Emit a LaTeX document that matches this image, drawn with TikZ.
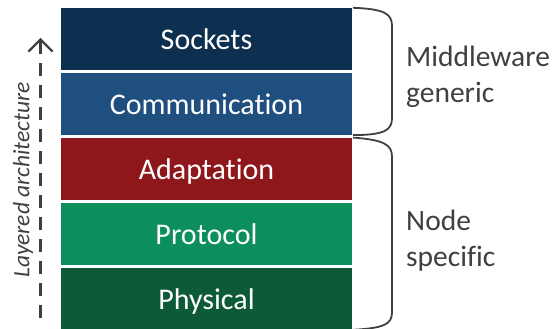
\documentclass[tikz,border=0pt]{standalone}
\usepackage{fontspec}
\setmainfont{Carlito}[RawFeature={-liga}]
\usetikzlibrary{positioning,arrows.meta}

\definecolor{sockblue}{HTML}{0D3050}
\definecolor{commblue}{HTML}{1E4F7E}
\definecolor{adaptred}{HTML}{8E171B}
\definecolor{protgreen}{HTML}{0C8F5C}
\definecolor{physgreen}{HTML}{0D5A37}
\definecolor{textgray}{HTML}{404040}

\begin{document}
\begin{tikzpicture}[x=1pt, y=-1pt,
    layer/.style={rectangle, minimum width=291pt, minimum height=62pt, inner sep=0pt,
        text height=22pt, text depth=0pt, text=white, font=\fontsize{30}{36}\selectfont},
    side/.style={align=left, anchor=base west, inner sep=0pt, text=textgray, font=\fontsize{29.5}{36}\selectfont},
    brace/.style={draw=textgray, line width=1.8pt}]
    \useasboundingbox (0,0) rectangle (558,329);

    % Stack of layers
    \node[layer, fill=sockblue] (sock) at (206.5,39) {Sockets};
    \node[layer, fill=commblue, below=2.5pt of sock] (comm) {Communication};
    \node[layer, fill=adaptred, below=2.5pt of comm] (adapt) {Adaptation};
    \node[layer, fill=protgreen, below=2.5pt of adapt] (prot) {Protocol};
    \node[layer, fill=physgreen, below=2.5pt of prot] (phys) {Physical};

    % Braces on the right
    \draw[brace] ([xshift=1pt]sock.north east) .. controls (385,9) and (392,14) .. (392,26)
        -- (392,118) .. controls (392,130) and (385,135) .. ([xshift=1pt]comm.south east);
    \draw[brace] ([xshift=1pt]adapt.north east) .. controls (385,140) and (392,145) .. (392,157)
        -- (392,312) .. controls (392,324) and (385,328) .. ([xshift=1pt]phys.south east);

    % Group labels
    \node[side] (mid) at (406,103) {Middleware\\generic};
    \node[side] (nod) at (406,266) {Node\\specific};

    % Layered architecture arrow
    \coordinate (arrbot) at (40.5,318);
    \coordinate (arrtop) at (40.5,38);
    \draw[draw=textgray, line width=2.2pt, dash pattern=on 13pt off 9pt,
        -{Straight Barb[length=12pt,width=24pt]}] (arrbot) -- (arrtop);
    \node[rotate=90, text=textgray, font=\itshape\fontsize{23.5}{28}\selectfont] (lbl) at (23,180) {Layered architecture};
\end{tikzpicture}
\end{document}
